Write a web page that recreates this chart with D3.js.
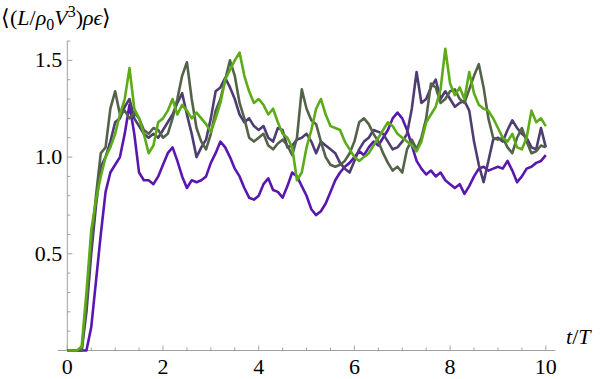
<!DOCTYPE html>
<html>
<head>
<meta charset="utf-8">
<script src="https://cdn.jsdelivr.net/npm/d3@7"></script>
<style>
  body { margin: 0; background: #fff; }
</style>
</head>
<body>
<script>
// curvas de <(L/rho0 V^3) rho eps> vs t/T, muestreadas cada 0.1
var tiempos = d3.range(0, 101).map(function(i) { return i / 10; });

var purpura = [0,0,0,0,0, 0.12,0.36,0.6,0.82,0.92, 0.96,1.0,1.12,1.27,1.12, 0.92,0.88,0.88,0.86,0.9,
  0.96,1.02,1.05,0.98,0.9, 0.84,0.88,0.87,0.88,0.9, 0.97,1.02,1.08,1.05,1.0, 0.94,0.9,0.84,0.79,0.78,
  0.8,0.86,0.89,0.83,0.82, 0.79,0.85,0.92,0.9,0.85, 0.8,0.73,0.7,0.72,0.76, 0.82,0.88,0.92,0.95,0.97,
  1.0,1.03,1.01,1.05,1.08, 1.06,1.1,1.14,1.2,1.23, 1.2,1.14,1.06,0.98,0.94, 0.91,0.93,0.9,0.92,0.88,
  0.86,0.84,0.86,0.81,0.85, 0.9,0.94,0.95,0.93,0.94, 0.95,0.94,0.98,0.93,0.87, 0.9,0.94,0.95,0.97,0.98, 1.01];

var pizarra = [0,0,0,0,0.2, 0.5,0.75,0.95,1.0,1.08, 1.18,1.2,1.26,1.3,1.2, 1.16,1.12,1.1,1.12,1.1,
  1.14,1.18,1.22,1.28,1.33, 1.22,1.12,1.0,1.05,1.09, 1.2,1.34,1.36,1.41,1.36, 1.3,1.22,1.18,1.2,1.16,
  1.14,1.16,1.1,1.08,1.15, 1.14,1.05,1.06,1.09,1.1, 1.12,1.08,1.02,1.08,1.06, 1.04,1.02,0.97,0.94,0.92,
  0.98,1.04,1.08,1.1,1.14, 1.13,1.12,1.08,1.04,1.05, 1.08,1.12,1.25,1.44,1.28, 1.3,1.36,1.4,1.3,1.34,
  1.3,1.26,1.28,1.29,1.24, 1.08,0.96,0.87,0.98,1.09, 1.1,1.08,1.14,1.19,1.15, 1.12,1.1,1.05,1.04,1.15, 1.05];

var oliva = [0,0,0,0,0.25, 0.55,0.8,1.02,1.05,1.25, 1.34,1.22,1.24,1.2,1.23, 1.2,1.14,1.12,1.15,1.14,
  1.1,1.12,1.2,1.3,1.42, 1.49,1.3,1.15,1.08,1.04, 1.12,1.24,1.3,1.4,1.5, 1.42,1.28,1.2,1.1,1.08,
  1.1,1.12,1.06,1.04,1.07, 1.09,1.06,1.01,1.1,1.35, 1.25,1.19,1.17,1.08,1.0, 0.96,0.95,0.96,0.98,1.02,
  1.08,1.18,1.2,1.17,1.12, 1.08,1.02,0.97,0.93,0.95, 0.92,1.04,1.09,1.04,1.1, 1.2,1.38,1.36,1.28,1.3,
  1.34,1.35,1.3,1.28,1.35, 1.42,1.48,1.36,1.2,1.1, 1.09,1.1,1.05,1.02,1.1, 1.15,1.08,1.02,1.03,1.06, 1.05];

var verde = [0,0,0,0.02,0.3, 0.62,0.78,0.9,1.0,1.05, 1.12,1.22,1.3,1.46,1.25, 1.2,1.12,1.02,1.06,1.18,
  1.2,1.24,1.3,1.22,1.27, 1.24,1.2,1.23,1.2,1.17, 1.13,1.2,1.28,1.4,1.45, 1.5,1.54,1.42,1.34,1.28,
  1.3,1.27,1.22,1.25,1.18, 1.12,1.1,1.05,0.88,0.92, 1.05,1.14,1.25,1.3,1.22, 1.16,1.15,1.14,1.08,1.04,
  1.0,0.98,1.0,1.02,1.06, 1.1,1.14,1.18,1.16,1.12, 1.1,1.08,1.06,1.03,1.08, 1.18,1.22,1.26,1.35,1.56,
  1.38,1.32,1.36,1.3,1.44, 1.33,1.27,1.25,1.24,1.2, 1.15,1.1,1.08,1.12,1.05, 1.04,1.1,1.24,1.18,1.2, 1.16];

var ticks_x = [0, 2, 4, 6, 8, 10];
var ticks_y = [0.5, 1.0, 1.5];

var series = [
  {nombre: "purpura", valores: purpura, color: "#5a17b0"},
  {nombre: "pizarra", valores: pizarra, color: "#4e3d72"},
  {nombre: "oliva",   valores: oliva,   color: "#53634a"},
  {nombre: "verde",   valores: verde,   color: "#5cab17"}
];

var width = 600, height = 379;
var fuente = "'Liberation Serif'";

var x = d3.scaleLinear().domain([0, 10]).range([67.3, 545.8]);
var y = d3.scaleLinear().domain([0, 1.6]).range([350.5, 41]);

var svg = d3.select("body").append("svg")
    .attr("width", width)
    .attr("height", height);

// ejes
var gris = "#a0a0a0";
svg.append("line")
    .attr("x1", x(-0.2)).attr("x2", x(10.2))
    .attr("y1", y(0)).attr("y2", y(0))
    .attr("stroke", gris).attr("stroke-width", 1);
svg.append("line")
    .attr("x1", x(0)).attr("x2", x(0))
    .attr("y1", y(0)).attr("y2", y(1.6))
    .attr("stroke", gris).attr("stroke-width", 1);

var menores_x = d3.range(0, 10.01, 0.5).filter(function(d) { return d % 2 != 0; });
var menores_y = d3.range(0.1, 1.61, 0.1).filter(function(d) { return Math.abs(d * 2 - Math.round(d * 2)) > 1e-6; });

svg.selectAll(".tx").data(ticks_x).enter().append("line")
    .attr("x1", function(d) { return x(d); }).attr("x2", function(d) { return x(d); })
    .attr("y1", y(0)).attr("y2", y(0) - 5)
    .attr("stroke", gris);
svg.selectAll(".mx").data(menores_x).enter().append("line")
    .attr("x1", function(d) { return x(d); }).attr("x2", function(d) { return x(d); })
    .attr("y1", y(0)).attr("y2", y(0) - 3)
    .attr("stroke", gris);
svg.selectAll(".ty").data(ticks_y).enter().append("line")
    .attr("x1", x(0)).attr("x2", x(0) + 5)
    .attr("y1", function(d) { return y(d); }).attr("y2", function(d) { return y(d); })
    .attr("stroke", gris);
svg.selectAll(".my").data(menores_y).enter().append("line")
    .attr("x1", x(0)).attr("x2", x(0) + 3)
    .attr("y1", function(d) { return y(d); }).attr("y2", function(d) { return y(d); })
    .attr("stroke", gris);

svg.selectAll(".lx").data(ticks_x).enter().append("text")
    .attr("x", function(d) { return x(d); })
    .attr("y", y(0) + 23)
    .attr("text-anchor", "middle")
    .style("font-family", fuente)
    .style("font-size", "22px")
    .text(function(d) { return d; });
svg.selectAll(".ly").data(ticks_y).enter().append("text")
    .attr("x", x(0) - 5)
    .attr("y", function(d) { return y(d) + 7; })
    .attr("text-anchor", "end")
    .style("font-family", fuente)
    .style("font-size", "22px")
    .text(function(d) { return d3.format(".1f")(d); });

// curvas
var linea = d3.line()
    .x(function(d, i) { return x(tiempos[i]); })
    .y(function(d) { return y(d); });

svg.selectAll(".serie").data(series).enter().append("path")
    .attr("class", "serie")
    .attr("fill", "none")
    .attr("stroke", function(d) { return d.color; })
    .attr("stroke-width", 2.6)
    .attr("stroke-linejoin", "round")
    .attr("d", function(d) { return linea(d.valores); });

// etiquetas de ejes
var ey = svg.append("text").attr("x", 1).attr("y", 25)
    .style("font-family", fuente).style("font-size", "22px");
ey.append("tspan").text("\u27E8(");
ey.append("tspan").style("font-style", "italic").text("L");
ey.append("tspan").text("/");
ey.append("tspan").style("font-style", "italic").text("\u03C1");
ey.append("tspan").attr("dy", 5).style("font-size", "16px").text("0");
ey.append("tspan").attr("dy", -5).style("font-style", "italic").text("V");
ey.append("tspan").attr("dy", -8).style("font-size", "16px").text("3");
ey.append("tspan").attr("dy", 8).text(")");
ey.append("tspan").style("font-style", "italic").text("\u03C1\u03F5");
ey.append("tspan").text("\u27E9");

var ex = svg.append("text").attr("x", 566).attr("y", 344)
    .style("font-family", fuente).style("font-size", "22px");
ex.append("tspan").style("font-style", "italic").text("t");
ex.append("tspan").text("/");
ex.append("tspan").style("font-style", "italic").text("T");
</script>
</body>
</html>
